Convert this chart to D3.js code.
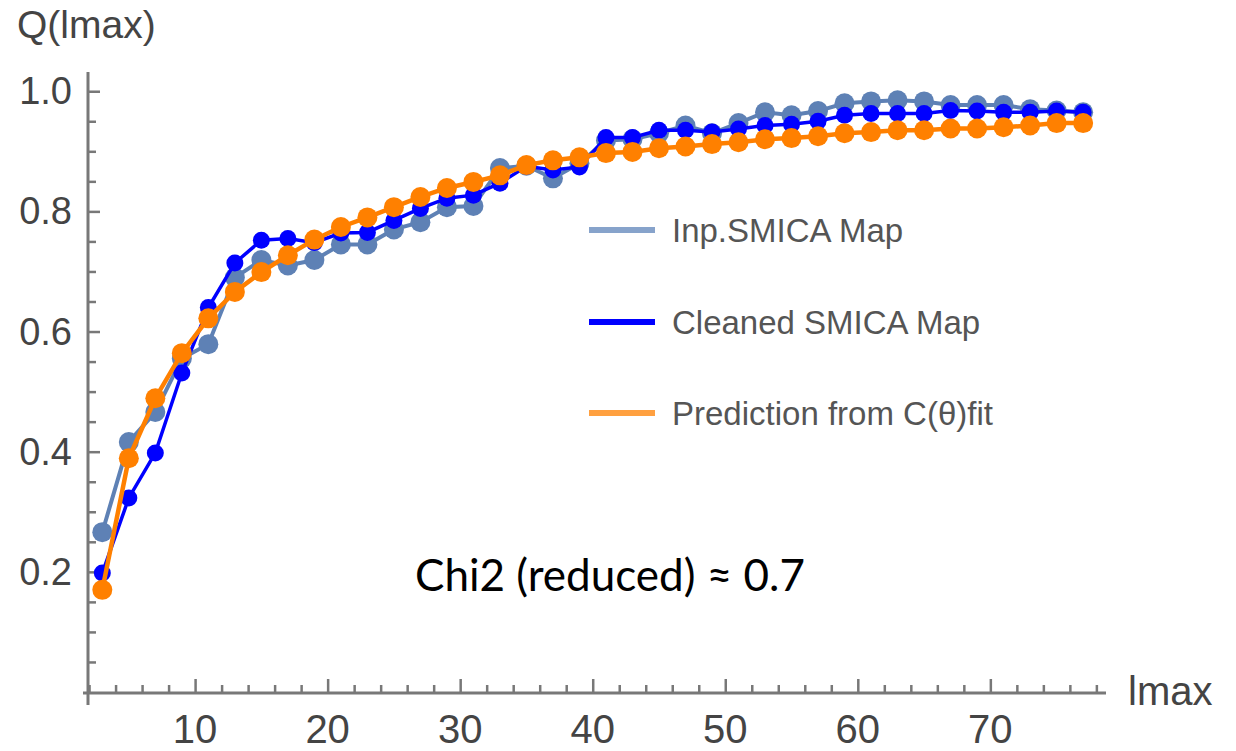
<!DOCTYPE html>
<html>
<head>
<meta charset="utf-8">
<script src="https://cdn.jsdelivr.net/npm/d3@7"></script>
<style>
  body { margin: 0; background: #fff; }
  #graph-container { width: 1236px; height: 751px; }
  .tick-label { font-family: "Liberation Sans", Arial, sans-serif; fill: #444; }
  .legend-text { font-family: "Liberation Sans", Arial, sans-serif; fill: #555; font-size: 33px; }
</style>
</head>
<body>
<div id="graph-container"></div>
<script>
// lmax values (odd multipoles)
const lmax = [3, 5, 7, 9, 11, 13, 15, 17, 19, 21, 23, 25, 27, 29, 31, 33, 35, 37, 39,
              41, 43, 45, 47, 49, 51, 53, 55, 57, 59, 61, 63, 65, 67, 69, 71, 73, 75, 77];

const inpSmica = [0.266, 0.416, 0.466, 0.555, 0.579, 0.690, 0.719, 0.710, 0.719, 0.745,
                  0.745, 0.770, 0.782, 0.807, 0.809, 0.872, 0.876, 0.855, 0.880, 0.918,
                  0.920, 0.930, 0.943, 0.930, 0.947, 0.965, 0.960, 0.967, 0.980, 0.983,
                  0.985, 0.983, 0.977, 0.977, 0.977, 0.970, 0.968, 0.965];

const cleanedSmica = [0.198, 0.323, 0.398, 0.531, 0.640, 0.714, 0.752, 0.755, 0.748, 0.764,
                      0.765, 0.785, 0.805, 0.822, 0.827, 0.847, 0.875, 0.869, 0.874, 0.923,
                      0.923, 0.935, 0.935, 0.932, 0.937, 0.943, 0.945, 0.950, 0.960, 0.963,
                      0.963, 0.963, 0.968, 0.967, 0.965, 0.965, 0.967, 0.965];

const prediction = [0.170, 0.389, 0.489, 0.564, 0.622, 0.666, 0.699, 0.727, 0.753, 0.774,
                    0.790, 0.807, 0.824, 0.839, 0.849, 0.860, 0.877, 0.885, 0.890, 0.897,
                    0.899, 0.905, 0.908, 0.912, 0.915, 0.920, 0.922, 0.925, 0.930, 0.932,
                    0.935, 0.935, 0.938, 0.938, 0.940, 0.943, 0.947, 0.947];

const xMajorTicks = [10, 20, 30, 40, 50, 60, 70];
const yMajorTicks = [0.2, 0.4, 0.6, 0.8, 1.0];
const yTickLabels = ["0.2", "0.4", "0.6", "0.8", "1.0"];

const seriesNames = ["Inp.SMICA Map", "Cleaned SMICA Map", "Prediction from C(\u03B8)fit"];

const W = 1236, H = 751;
const axisColor = "#787878";

function drawChart() {
    const svg = d3.select("#graph-container")
        .append("svg")
        .attr("width", W)
        .attr("height", H);

    const x = d3.scaleLinear().domain([1.92, 78.5]).range([88, 1103]);
    const y = d3.scaleLinear().domain([0, 1.032]).range([692, 72]);

    // minor ticks every 2 in lmax, every 0.05 in Q
    const xMinor = d3.range(2, 79, 2).filter(v => v % 10 !== 0);
    const yMinor = d3.range(1, 21).map(i => i * 0.05).filter(v => Math.abs(v * 5 - Math.round(v * 5)) > 1e-6);

    // axis lines
    svg.append("line")
        .attr("x1", 83).attr("x2", 1106)
        .attr("y1", y(0) + 1).attr("y2", y(0) + 1)
        .attr("stroke", axisColor).attr("stroke-width", 3);
    svg.append("line")
        .attr("x1", x(1.92)).attr("x2", x(1.92))
        .attr("y1", 72).attr("y2", 705)
        .attr("stroke", axisColor).attr("stroke-width", 3);

    // x ticks
    const xAxisMajor = svg.append("g")
        .attr("transform", `translate(0,${y(0) + 1})`)
        .call(d3.axisTop(x).tickValues(xMajorTicks).tickSize(14).tickFormat(""));
    const xAxisMinor = svg.append("g")
        .attr("transform", `translate(0,${y(0) + 1})`)
        .call(d3.axisTop(x).tickValues(xMinor).tickSize(8).tickFormat(""));
    [xAxisMajor, xAxisMinor].forEach(a => {
        a.select(".domain").remove();
        a.selectAll("line").attr("stroke", axisColor).attr("stroke-width", 2.5);
    });

    svg.append("g").selectAll("text")
        .data(xMajorTicks)
        .join("text")
        .attr("class", "tick-label")
        .attr("x", d => x(d))
        .attr("y", 743)
        .attr("text-anchor", "middle")
        .attr("font-size", 40)
        .text(d => d);

    // y ticks
    const yAxisMajor = svg.append("g")
        .attr("transform", `translate(${x(1.92)},0)`)
        .call(d3.axisRight(y).tickValues(yMajorTicks).tickSize(12).tickFormat(""));
    const yAxisMinor = svg.append("g")
        .attr("transform", `translate(${x(1.92)},0)`)
        .call(d3.axisRight(y).tickValues(yMinor).tickSize(8).tickFormat(""));
    [yAxisMajor, yAxisMinor].forEach(a => {
        a.select(".domain").remove();
        a.selectAll("line").attr("stroke", axisColor).attr("stroke-width", 2.5);
    });

    svg.append("g").selectAll("text")
        .data(yMajorTicks)
        .join("text")
        .attr("class", "tick-label")
        .attr("x", 72)
        .attr("y", d => y(d) + 13)
        .attr("text-anchor", "end")
        .attr("font-size", 38)
        .text((d, i) => yTickLabels[i]);

    // axis labels
    svg.append("text")
        .attr("class", "tick-label")
        .attr("x", 17).attr("y", 38)
        .attr("font-size", 39)
        .text("Q(lmax)");
    svg.append("text")
        .attr("class", "tick-label")
        .attr("x", 1128).attr("y", 705)
        .attr("font-size", 40)
        .text("lmax");

    // series
    const series = [
        { name: seriesNames[0], values: inpSmica, color: "#5e81b5", legend: "#87a3cb", r: 10, w: 4 },
        { name: seriesNames[1], values: cleanedSmica, color: "#0000ff", legend: "#0000ff", r: 8.5, w: 3.5 },
        { name: seriesNames[2], values: prediction, color: "#ff8000", legend: "#ffa040", r: 10, w: 4.5 }
    ];

    const lineGen = d3.line()
        .x(d => x(d[0]))
        .y(d => y(d[1]));

    series.forEach(s => {
        const pts = lmax.map((l, i) => [l, s.values[i]]);
        const g = svg.append("g");
        g.append("path")
            .datum(pts)
            .attr("d", lineGen)
            .attr("fill", "none")
            .attr("stroke", s.color)
            .attr("stroke-width", s.w);
        g.selectAll("circle")
            .data(pts)
            .join("circle")
            .attr("cx", d => x(d[0]))
            .attr("cy", d => y(d[1]))
            .attr("r", s.r)
            .attr("fill", s.color);
    });

    // legend
    const legendY = [230, 322, 413];
    const legend = svg.append("g");
    series.forEach((s, i) => {
        legend.append("line")
            .attr("x1", 589).attr("x2", 655)
            .attr("y1", legendY[i]).attr("y2", legendY[i])
            .attr("stroke", s.legend)
            .attr("stroke-width", 6);
        legend.append("text")
            .attr("class", "legend-text")
            .attr("x", 672)
            .attr("y", legendY[i] + 12)
            .text(s.name);
    });

    // annotation
    svg.append("text")
        .attr("x", 415).attr("y", 591)
        .attr("font-family", "Lato, 'Open Sans', sans-serif")
        .attr("font-size", 44)
        .attr("fill", "#000")
        .text("Chi2 (reduced) \u2248 0.7");
}

document.addEventListener('DOMContentLoaded', drawChart);
</script>
</body>
</html>
